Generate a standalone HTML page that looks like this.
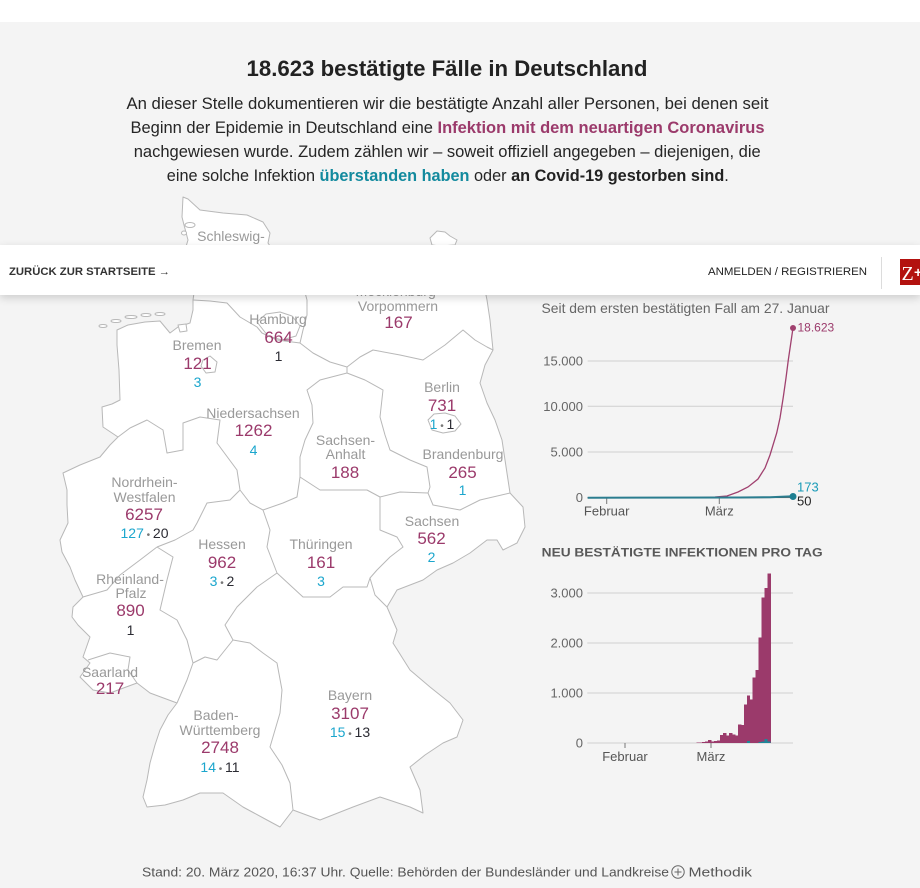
<!DOCTYPE html>
<html>
<head>
<meta charset="utf-8">
<style>
  html, body { margin:0; padding:0; }
  body { width:920px; height:888px; overflow:hidden; background:#f4f4f4; position:relative; font-family:"Liberation Sans", Arial, sans-serif; }
  .topband { position:absolute; left:0; top:0; width:920px; height:22px; background:#fff; }
  .main { position:absolute; left:0; top:0; }
  .nav { position:absolute; left:0; top:245px; width:920px; height:50px; background:#fff; box-shadow:0 3px 8px rgba(0,0,0,0.16); z-index:5; }
  .nav svg { position:absolute; left:0; top:0; }
</style>
</head>
<body>
<div class="topband"></div>

<svg class="main" width="920" height="888" viewBox="0 0 920 888" xmlns="http://www.w3.org/2000/svg" font-family="Liberation Sans, Arial, sans-serif">
  <!-- Header -->
  <text x="447" y="76" text-anchor="middle" font-size="22" font-weight="bold" fill="#222" textLength="401" lengthAdjust="spacingAndGlyphs">18.623 bestätigte Fälle in Deutschland</text>
  <g font-size="16.7" fill="#252525" text-anchor="middle">
    <text x="447.5" y="109" textLength="642" lengthAdjust="spacingAndGlyphs">An dieser Stelle dokumentieren wir die bestätigte Anzahl aller Personen, bei denen seit</text>
    <text x="447.5" y="133" textLength="634" lengthAdjust="spacingAndGlyphs">Beginn der Epidemie in Deutschland eine <tspan font-weight="bold" fill="#9b3a6b">Infektion mit dem neuartigen Coronavirus</tspan></text>
    <text x="447.2" y="157" textLength="627" lengthAdjust="spacingAndGlyphs">nachgewiesen wurde. Zudem zählen wir – soweit offiziell angegeben – diejenigen, die</text>
    <text x="447.8" y="181" textLength="562" lengthAdjust="spacingAndGlyphs">eine solche Infektion <tspan font-weight="bold" fill="#138a9e">überstanden haben</tspan> oder <tspan font-weight="bold" fill="#222">an Covid-19 gestorben sind</tspan>.</text>
  </g>

  <!-- Map -->
  <g fill="#ffffff" stroke="#b8b8b8" stroke-width="1" stroke-linejoin="round">
    <path d="M183,197 L188,199 L200,210 L223,213 L247,215 L263,222 L270,233 L268,243 L274,252 L285,258 L295,262 L310,258 L325,251 L345,250 L370,250 L395,249 L415,249 L428,251 L445,251 L462,257 L478,270 L484,285 L487,300 L490,320 L493,350 L485,365 L480,383 L487,403 L495,420 L502,440 L505,460 L510,493 L523,507 L525,527 L517,543 L503,550 L497,540 L487,540 L470,553 L453,563 L437,570 L423,580 L397,590 L387,607 L397,630 L393,643 L410,670 L430,687 L450,703 L463,720 L457,737 L443,743 L425,755 L410,767 L420,790 L423,813 L410,807 L380,797 L353,807 L320,820 L293,810 L280,827 L267,820 L243,807 L223,793 L200,793 L183,800 L165,805 L147,807 L143,797 L147,780 L150,763 L155,745 L160,730 L168,715 L177,703 L150,693 L137,683 L110,693 L93,690 L80,677 L90,663 L83,657 L90,637 L78,625 L72,617 L73,607 L83,597 L75,580 L70,567 L62,552 L60,540 L68,523 L67,505 L67,490 L63,473 L80,465 L100,457 L110,445 L118,437 L103,427 L102,407 L112,404 L120,400 L119,370 L117,345 L117,330 L128,325 L145,322 L160,321 L170,333 L178,327 L190,323 L193,310 L193,300 L194,293 L190,280 L186,265 L185,250 L188,240 L184,225 L182,217 Z"/>
    <path d="M430,238 L437,231 L445,232 L450,236 L457,240 L455,245 L440,246 L432,245 Z"/>
    <ellipse cx="190" cy="225" rx="5" ry="2.5"/>
    <ellipse cx="184" cy="233" rx="2.5" ry="2"/>
    <ellipse cx="103" cy="326" rx="4" ry="1.5"/>
    <ellipse cx="116" cy="321" rx="5" ry="1.5"/>
    <ellipse cx="131" cy="317" rx="6" ry="1.5"/>
    <ellipse cx="146" cy="315" rx="5" ry="1.5"/>
    <ellipse cx="160" cy="314" rx="5" ry="1.5"/>
  </g>
  <g fill="none" stroke="#b8b8b8" stroke-width="1" stroke-linejoin="round">
    <polyline points="193,300 210,301 227,303 240,317 257,327 262,333 277,340 300,343 313,353 330,362 347,367"/>
    <polyline points="300,343 303,330 307,315 307,300 303,285 300,265"/>
    <polyline points="347,367 360,357 373,350 400,355 423,360 445,345 463,330 475,340 487,347 493,350"/>
    <polyline points="347,367 347,373 365,380 383,390 380,417 385,435 390,450 410,460 427,467 430,487 428,493"/>
    <polyline points="347,373 320,380 307,390 312,405 313,423 305,440 300,457 300,477"/>
    <polyline points="300,477 320,490 345,490 367,490 380,497 400,492 428,493"/>
    <polyline points="428,493 433,505 460,510 480,500 510,493"/>
    <polyline points="380,497 380,530 397,537 403,547 390,557 377,570 370,578 375,595 387,607"/>
    <polyline points="370,578 367,587 343,587 330,597 303,597 290,585 277,573"/>
    <polyline points="300,477 297,497 283,503 263,510 270,530 267,547 277,573"/>
    <polyline points="263,510 250,503 240,490 237,470 217,443 220,420 200,417 183,423 183,450 167,453 163,430 147,420 130,428 118,437"/>
    <polyline points="240,490 230,500 207,503 197,523 193,530 175,540 157,547"/>
    <polyline points="157,547 140,560 120,575 107,590 83,597"/>
    <polyline points="157,547 173,557 167,580 160,610 177,620 187,640 193,663"/>
    <polyline points="193,663 187,680 177,703"/>
    <polyline points="193,663 205,657 217,660 233,640"/>
    <polyline points="277,573 257,587 237,607 225,625 233,640"/>
    <polyline points="233,640 250,643 263,653 277,663 282,690 280,713 270,747 282,765 290,783 293,810"/>
    <polyline points="88,660 110,653 130,657 128,670 137,683"/>
  </g>
  <g fill="#ffffff" stroke="#b8b8b8" stroke-width="1" stroke-linejoin="round">
    <path d="M257,322 L266,314 L280,312 L292,316 L300,326 L296,336 L282,340 L268,336 Z"/>
    <path d="M203,360 L210,356 L217,362 L215,372 L206,373 L201,366 Z"/>
    <path d="M178,325 L186,324 L187,331 L180,332 Z"/>
    <path d="M428,420 L434,414 L445,413 L455,416 L461,424 L455,431 L443,433 L432,430 Z"/>
  </g>

  <!-- Map labels -->
  <g text-anchor="middle">
    <g font-size="14" fill="#999">
      <text x="231" y="241">Schleswig-</text>
      <text x="231" y="256">Holstein</text>
      <text x="398" y="296">Mecklenburg-</text>
      <text x="398" y="311">Vorpommern</text>
      <text x="278" y="324">Hamburg</text>
      <text x="197" y="350">Bremen</text>
      <text x="253" y="418">Niedersachsen</text>
      <text x="442" y="392">Berlin</text>
      <text x="345.5" y="445">Sachsen-</text>
      <text x="345.5" y="459">Anhalt</text>
      <text x="463" y="459">Brandenburg</text>
      <text x="144.5" y="487">Nordrhein-</text>
      <text x="144.5" y="502">Westfalen</text>
      <text x="432" y="526">Sachsen</text>
      <text x="222" y="549">Hessen</text>
      <text x="321" y="549">Thüringen</text>
      <text x="130" y="584">Rheinland-</text>
      <text x="131" y="598">Pfalz</text>
      <text x="110" y="677">Saarland</text>
      <text x="350" y="700">Bayern</text>
      <text x="216" y="720">Baden-</text>
      <text x="220" y="735">Württemberg</text>
    </g>
    <g font-size="17" fill="#9b3a6b">
      <text x="398.5" y="328">167</text>
      <text x="278.5" y="343">664</text>
      <text x="197.5" y="369">121</text>
      <text x="253.5" y="436">1262</text>
      <text x="442" y="411">731</text>
      <text x="345" y="478">188</text>
      <text x="462.5" y="478">265</text>
      <text x="144" y="520">6257</text>
      <text x="431.5" y="544">562</text>
      <text x="222" y="568">962</text>
      <text x="321" y="568">161</text>
      <text x="130.5" y="616">890</text>
      <text x="110" y="694">217</text>
      <text x="350" y="719">3107</text>
      <text x="220" y="753">2748</text>
    </g>
    <g font-size="14">
      <text x="278.5" y="361" fill="#2b2b33">1</text>
      <text x="197.5" y="387" fill="#1ba6cd">3</text>
      <text x="253.5" y="455" fill="#1ba6cd">4</text>
      <text x="442" y="429"><tspan fill="#1ba6cd">1</tspan><tspan font-size="10" fill="#777"> • </tspan><tspan fill="#2b2b33">1</tspan></text>
      <text x="462.5" y="495" fill="#1ba6cd">1</text>
      <text x="144.5" y="538"><tspan fill="#1ba6cd">127</tspan><tspan font-size="10" fill="#777"> • </tspan><tspan fill="#2b2b33">20</tspan></text>
      <text x="431.5" y="562" fill="#1ba6cd">2</text>
      <text x="222" y="586"><tspan fill="#1ba6cd">3</tspan><tspan font-size="10" fill="#777"> • </tspan><tspan fill="#2b2b33">2</tspan></text>
      <text x="321" y="586" fill="#1ba6cd">3</text>
      <text x="130.5" y="635" fill="#2b2b33">1</text>
      <text x="350" y="737"><tspan fill="#1ba6cd">15</tspan><tspan font-size="10" fill="#777"> • </tspan><tspan fill="#2b2b33">13</tspan></text>
      <text x="220" y="772"><tspan fill="#1ba6cd">14</tspan><tspan font-size="10" fill="#777"> • </tspan><tspan fill="#2b2b33">11</tspan></text>
    </g>
  </g>

  <!-- Line chart -->
  <text x="541.5" y="313" font-size="14" fill="#666" textLength="288" lengthAdjust="spacingAndGlyphs">Seit dem ersten bestätigten Fall am 27. Januar</text>
  <g stroke="#cfcfcf" stroke-width="1">
    <line x1="587.7" y1="361" x2="793" y2="361"/>
    <line x1="587.7" y1="406.3" x2="793" y2="406.3"/>
    <line x1="587.7" y1="452" x2="793" y2="452"/>
    <line x1="587.7" y1="497.7" x2="793" y2="497.7"/>
  </g>
  <g font-size="13" fill="#666" text-anchor="end">
    <text x="583" y="365.5">15.000</text>
    <text x="583" y="410.8">10.000</text>
    <text x="583" y="456.5">5.000</text>
    <text x="583" y="502">0</text>
  </g>
  <g stroke="#777" stroke-width="1">
    <line x1="606.7" y1="498" x2="606.7" y2="504"/>
    <line x1="719.3" y1="498" x2="719.3" y2="504"/>
  </g>
  <g font-size="13" fill="#555" text-anchor="middle">
    <text x="606.7" y="515.5">Februar</text>
    <text x="719.3" y="515.5">März</text>
  </g>
  <path d="M587.7,497.7 L700,497.5 L715,497 L727,496 L738,492 L748,487 L758,479 L765,468 L770,455 L776.7,433 L780,418 L783.3,397 L786,378 L788.3,360 L793,328" fill="none" stroke="#a0416f" stroke-width="1.3"/>
  <path d="M587.7,497.8 L760,497.6 L793,497.3" fill="none" stroke="#333" stroke-width="1"/>
  <path d="M587.7,497.7 L740,497.5 L770,497.2 L793,496.3" fill="none" stroke="#2b7d8f" stroke-width="2"/>
  <circle cx="793" cy="328" r="3" fill="#a0416f"/>
  <circle cx="793" cy="496.5" r="3.5" fill="#1d7f92"/>
  <text x="797.5" y="331.5" font-size="12" fill="#9b3a6b">18.623</text>
  <text x="797" y="491.5" font-size="13" fill="#1a9bb8">173</text>
  <text x="797" y="505.5" font-size="13" fill="#222">50</text>

  <!-- Bar chart -->
  <text x="541.7" y="556.3" font-size="12" font-weight="bold" fill="#585858" textLength="281" lengthAdjust="spacingAndGlyphs">NEU BESTÄTIGTE INFEKTIONEN PRO TAG</text>
  <g stroke="#cfcfcf" stroke-width="1">
    <line x1="587.3" y1="593" x2="793" y2="593"/>
    <line x1="587.3" y1="643" x2="793" y2="643"/>
    <line x1="587.3" y1="693" x2="793" y2="693"/>
    <line x1="587.3" y1="743" x2="793" y2="743"/>
  </g>
  <g font-size="13" fill="#666" text-anchor="end">
    <text x="583" y="597.7">3.000</text>
    <text x="583" y="647.7">2.000</text>
    <text x="583" y="697.7">1.000</text>
    <text x="583" y="747.7">0</text>
  </g>
  <g stroke="#777" stroke-width="1">
    <line x1="625" y1="743" x2="625" y2="748"/>
    <line x1="711" y1="743" x2="711" y2="748"/>
  </g>
  <g font-size="13" fill="#555" text-anchor="middle">
    <text x="625" y="761">Februar</text>
    <text x="711" y="761">März</text>
  </g>
  <g fill="#9b3a6b" shape-rendering="crispEdges">
    <rect x="696.28" y="742.6" width="3.4" height="0.4"/>
    <rect x="699.25" y="742.4" width="3.4" height="0.6"/>
    <rect x="702.22" y="742" width="3.4" height="1"/>
    <rect x="705.19" y="741.5" width="3.4" height="1.5"/>
    <rect x="708.16" y="740" width="3.4" height="3"/>
    <rect x="711.13" y="741.65" width="3.4" height="1.35"/>
    <rect x="714.10" y="741" width="3.4" height="2"/>
    <rect x="717.07" y="740.65" width="3.4" height="2.35"/>
    <rect x="720.04" y="735" width="3.4" height="8"/>
    <rect x="723.01" y="733" width="3.4" height="10"/>
    <rect x="725.98" y="735.7" width="3.4" height="7.3"/>
    <rect x="728.95" y="733" width="3.4" height="10"/>
    <rect x="731.92" y="734.35" width="3.4" height="8.65"/>
    <rect x="734.89" y="735.35" width="3.4" height="7.65"/>
    <rect x="737.86" y="724.35" width="3.4" height="18.65"/>
    <rect x="740.83" y="725" width="3.4" height="18"/>
    <rect x="743.80" y="704.35" width="3.4" height="38.65"/>
    <rect x="746.77" y="695.35" width="3.4" height="47.65"/>
    <rect x="749.74" y="699.65" width="3.4" height="43.35"/>
    <rect x="752.71" y="677.35" width="3.4" height="65.65"/>
    <rect x="755.68" y="670" width="3.4" height="73"/>
    <rect x="758.65" y="637.65" width="3.4" height="105.35"/>
    <rect x="761.62" y="597.35" width="3.4" height="145.65"/>
    <rect x="764.59" y="588" width="3.4" height="155"/>
    <rect x="767.56" y="573.35" width="3.2" height="169.65"/>
  </g>
  <g fill="#1d8799" shape-rendering="crispEdges">
    <rect x="746.77" y="741" width="3" height="2"/>
    <rect x="758.65" y="742" width="3" height="1"/>
    <rect x="761.62" y="741.5" width="3" height="1.5"/>
    <rect x="764.59" y="739" width="3" height="4"/>
    <rect x="767.56" y="741.5" width="3" height="1.5"/>
  </g>

  <!-- Footer -->
  <text x="142" y="876.5" font-size="13" fill="#555" textLength="527" lengthAdjust="spacingAndGlyphs">Stand: 20. März 2020, 16:37 Uhr. Quelle: Behörden der Bundesländer und Landkreise</text>
  <circle cx="678" cy="872" r="6.2" fill="none" stroke="#666" stroke-width="1"/>
  <line x1="674.5" y1="872" x2="681.5" y2="872" stroke="#666" stroke-width="1"/>
  <line x1="678" y1="868.5" x2="678" y2="875.5" stroke="#666" stroke-width="1"/>
  <text x="688.5" y="876.5" font-size="13" fill="#555" textLength="63.5" lengthAdjust="spacingAndGlyphs">Methodik</text>
</svg>

<div class="nav">
  <svg width="920" height="50" viewBox="0 0 920 50" xmlns="http://www.w3.org/2000/svg" font-family="Liberation Sans, Arial, sans-serif">
    <text x="9" y="30" font-size="11" font-weight="bold" fill="#333" textLength="161" lengthAdjust="spacingAndGlyphs">ZURÜCK ZUR STARTSEITE →</text>
    <text x="708" y="30" font-size="11" fill="#222" textLength="159" lengthAdjust="spacingAndGlyphs">ANMELDEN / REGISTRIEREN</text>
    <line x1="881.5" y1="12" x2="881.5" y2="44" stroke="#dcdcdc" stroke-width="1"/>
    <rect x="900" y="14" width="22" height="26" fill="#b3120f"/>
    <text x="901.5" y="35" font-size="20" font-family="Liberation Serif, serif" fill="#fff">Z</text>
    <text x="914" y="32" font-size="14" font-weight="bold" fill="#fff">+</text>
  </svg>
</div>
</body>
</html>
